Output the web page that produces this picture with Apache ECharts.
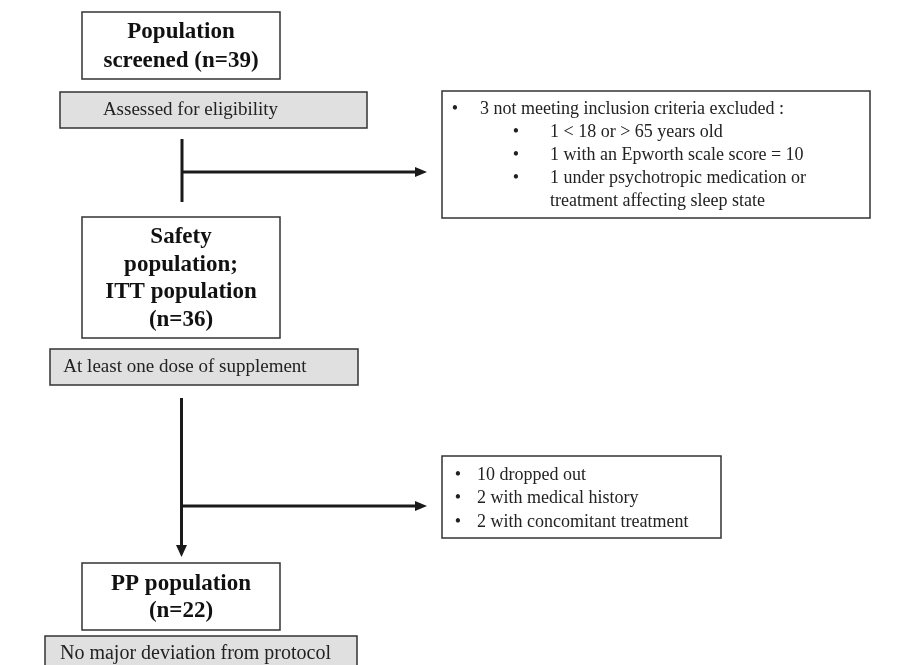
<!DOCTYPE html>
<html>
<head>
<meta charset="utf-8">
<script src="https://cdn.jsdelivr.net/npm/echarts@6/dist/echarts.min.js"></script>
<style>html,body{margin:0;padding:0;background:#fff;}#c{width:897px;height:665px;}</style>
</head>
<body>
<div id="c"></div>
<script>
// ---- data ----
const stageTitles = ['Population\nscreened', 'Safety\npopulation;\nITT population', 'PP population'];
const stageCounts = [39, 36, 22];
const countJoin = [' ', '\n', '\n'];
const stageNotes = ['Assessed for eligibility', 'At least one dose of supplement', 'No major deviation from protocol'];
const exclusionHeader = '3 not meeting inclusion criteria excluded :';
const exclusionItems = ['1 < 18 or > 65 years old', '1 with an Epworth scale score = 10', '1 under psychotropic medication or', 'treatment affecting sleep state'];
const exclusionBullets = [true, true, true, false];
const dropoutItems = ['10 dropped out', '2 with medical history', '2 with concomitant treatment'];

// ---- layout (positions / sizes) ----
const FONT = '"Liberation Serif", "Times New Roman", serif';
const stageBoxes = [
  {x: 82, y: 12, w: 198, h: 67, lh: 29},
  {x: 82, y: 217, w: 198, h: 121, lh: 27.5},
  {x: 82, y: 563, w: 198, h: 67, lh: 27}
];
const noteBoxes = [
  {x: 60, y: 92, w: 307, h: 36, tx: 190.5, size: 19},
  {x: 50, y: 349, w: 308, h: 36, tx: 185, size: 19},
  {x: 45, y: 636, w: 312, h: 40, tx: 195.5, size: 20}
];
const exclBox = {x: 442, y: 91, w: 428, h: 127, hy: 109, hbx: 455, htx: 480, rowY: 132, row: 23, bx: 516, tx: 550};
const dropBox = {x: 442, y: 456, w: 279, h: 82, rowY: 475, row: 23.5, bx: 458, tx: 477};

const g = [];
const STROKE = '#333';
stageBoxes.forEach((b, i) => {
  g.push({type: 'rect', shape: {x: b.x, y: b.y, width: b.w, height: b.h},
    style: {fill: '#fff', stroke: STROKE, lineWidth: 1.5}});
  g.push({type: 'text', x: b.x + b.w / 2, y: b.y + b.h / 2 + 1,
    style: {text: stageTitles[i] + countJoin[i] + '(n=' + stageCounts[i] + ')',
      font: 'bold 23px ' + FONT, fill: '#111', textAlign: 'center', textVerticalAlign: 'middle', lineHeight: b.lh}});
});
noteBoxes.forEach((b, i) => {
  g.push({type: 'rect', shape: {x: b.x, y: b.y, width: b.w, height: b.h},
    style: {fill: '#e0e0e0', stroke: STROKE, lineWidth: 1.5}});
  g.push({type: 'text', x: b.tx, y: b.y + 18,
    style: {text: stageNotes[i], font: b.size + 'px ' + FONT, fill: '#222', textAlign: 'center', textVerticalAlign: 'middle'}});
});
// exclusion box
g.push({type: 'rect', shape: {x: exclBox.x, y: exclBox.y, width: exclBox.w, height: exclBox.h},
  style: {fill: '#fff', stroke: STROKE, lineWidth: 1.5}});
g.push({type: 'text', x: exclBox.hbx, y: exclBox.hy, style: {text: '•', font: '18px ' + FONT, fill: '#222', textAlign: 'center', textVerticalAlign: 'middle'}});
g.push({type: 'text', x: exclBox.htx, y: exclBox.hy, style: {text: exclusionHeader, font: '18px ' + FONT, fill: '#222', textVerticalAlign: 'middle'}});
exclusionItems.forEach((t, i) => {
  const y = exclBox.rowY + i * exclBox.row;
  if (exclusionBullets[i]) g.push({type: 'text', x: exclBox.bx, y: y, style: {text: '•', font: '18px ' + FONT, fill: '#222', textAlign: 'center', textVerticalAlign: 'middle'}});
  g.push({type: 'text', x: exclBox.tx, y: y, style: {text: t, font: '18px ' + FONT, fill: '#222', textVerticalAlign: 'middle'}});
});
// dropout box
g.push({type: 'rect', shape: {x: dropBox.x, y: dropBox.y, width: dropBox.w, height: dropBox.h},
  style: {fill: '#fff', stroke: STROKE, lineWidth: 1.5}});
dropoutItems.forEach((t, i) => {
  const y = dropBox.rowY + i * dropBox.row;
  g.push({type: 'text', x: dropBox.bx, y: y, style: {text: '•', font: '18px ' + FONT, fill: '#222', textAlign: 'center', textVerticalAlign: 'middle'}});
  g.push({type: 'text', x: dropBox.tx, y: y, style: {text: t, font: '18px ' + FONT, fill: '#222', textVerticalAlign: 'middle'}});
});
// connectors
const LW = 3, LC = '#1a1a1a';
function line(x1, y1, x2, y2) {
  g.push({type: 'line', shape: {x1, y1, x2, y2}, style: {stroke: LC, lineWidth: LW}});
}
function arrowRight(x1, y, tip) {
  line(x1, y, tip - 10, y);
  g.push({type: 'polygon', shape: {points: [[tip - 12, y - 5], [tip, y], [tip - 12, y + 5]]}, style: {fill: LC}});
}
function arrowDown(x, y1, tip) {
  line(x, y1, x, tip - 10);
  g.push({type: 'polygon', shape: {points: [[x - 5.5, tip - 12], [x, tip], [x + 5.5, tip - 12]]}, style: {fill: LC}});
}
line(182, 139, 182, 202);
arrowRight(182, 172, 427);
arrowDown(181.5, 398, 557);
arrowRight(181.5, 506, 427);

const chart = echarts.init(document.getElementById('c'), null, {renderer: 'canvas'});
chart.setOption({animation: false, backgroundColor: '#fff', graphic: g});
</script>
</body>
</html>
